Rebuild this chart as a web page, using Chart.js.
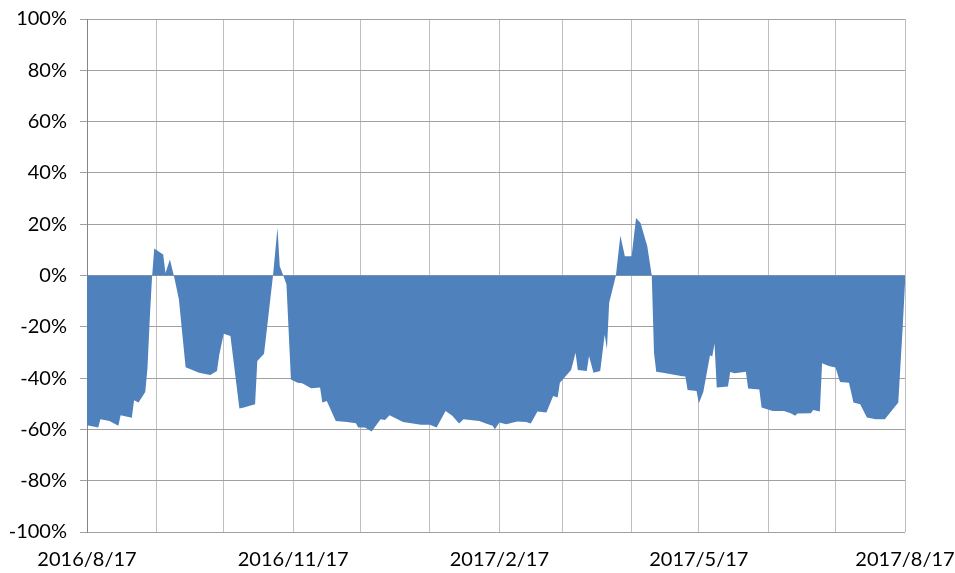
<!DOCTYPE html>
<html>
<head>
<meta charset="utf-8">
<title>Premium</title>
<script src="https://cdn.jsdelivr.net/npm/chart.js@4.4.0/dist/chart.umd.min.js"></script>
<style>
    html, body { margin: 0; padding: 0; background: #fff; }
    #wrap { width: 955px; height: 573px; }
</style>
</head>
<body>
<div id="wrap"><canvas id="premiumChart" width="955" height="573"></canvas></div>
<script>
// days counted from 2016/8/17
var dayOffsets = [
    0, 5, 6, 10, 14, 15, 20, 21, 23, 26, 27, 28, 29, 30, 34, 35, 37, 39, 41, 44,
    50, 55, 58, 59, 61, 64, 68, 70, 75, 76, 79, 83, 85, 86, 88, 89, 91, 94, 96, 100,
    104, 105, 107, 111, 116, 120, 121, 124, 127, 131, 133, 135, 141, 149, 153, 156, 160, 163, 166, 168,
    175, 178, 181, 182, 184, 187, 192, 196, 198, 201, 205, 208, 210, 211, 216, 218, 219, 223, 224, 226,
    229, 231, 232, 233, 236, 238, 240, 243, 245, 247, 250, 252, 253, 254, 257, 265, 267, 268, 272, 273,
    275, 278, 279, 280, 281, 286, 287, 289, 294, 295, 300, 301, 306, 311, 314, 316, 317, 323, 324, 327,
    328, 331, 334, 336, 340, 342, 345, 348, 352, 356, 362, 364, 365
];

// percent
var premiumValues = [
    -58.4, -59.3, -56.0, -56.7, -58.6, -54.5, -55.5, -48.6, -49.5, -45.4, -36.0, -17.0, -1.0, 10.5, 8.2, 1.0, 6.2, -1.0, -9.3, -35.8,
    -37.9, -38.8, -37.2, -31.0, -22.7, -23.6, -51.9, -51.5, -50.2, -33.3, -30.5, 0.0, 18.6, 3.6, -1.0, -3.5, -40.5, -41.8, -42.0, -44.0,
    -43.7, -49.5, -48.9, -56.7, -57.1, -57.6, -59.3, -59.3, -60.8, -56.0, -56.3, -54.5, -57.1, -58.2, -58.2, -59.3, -52.8, -54.7, -57.7, -56.0,
    -56.7, -57.7, -58.6, -59.9, -57.3, -58.0, -56.9, -57.1, -57.7, -53.0, -53.4, -47.0, -47.6, -41.8, -36.8, -30.1, -36.8, -37.2, -31.4, -37.9,
    -37.2, -23.0, -28.8, -10.6, 0.0, 15.6, 7.5, 7.5, 22.4, 20.5, 11.4, 0.0, -30.1, -37.5, -37.9, -39.2, -39.4, -44.6, -45.0, -49.8,
    -45.4, -31.1, -31.6, -26.5, -43.7, -43.3, -37.6, -38.1, -37.5, -44.1, -44.4, -51.5, -52.8, -52.8, -53.7, -54.7, -53.8, -53.7, -52.4, -53.0,
    -34.2, -35.3, -35.9, -41.5, -41.8, -49.5, -50.2, -55.4, -56.0, -56.0, -49.5, -19.7, -3.0
];

// month gridlines (days from 2016/8/17) and their labels
var monthTicks = [0, 31, 61, 92, 122, 153, 184, 212, 243, 273, 304, 334, 365];
var tickLabels = ['2016/8/17', '', '', '2016/11/17', '', '', '2017/2/17', '', '', '2017/5/17', '', '', '2017/8/17'];

(function (window, document) {
    'use strict';

    var font = { family: 'Lato', size: 20 };

    var points = dayOffsets.map(function (d, i) {
        return { x: d, y: premiumValues[i] };
    });

    // the plot box is set by layout.padding and fixed axis sizes, not by label overhang
    var noOverhang = function (scale) {
        scale.paddingLeft = 0;
        scale.paddingRight = 0;
        scale.paddingTop = 0;
        scale.paddingBottom = 0;
    };

    var ctx = document.getElementById('premiumChart').getContext('2d');

    new Chart(ctx, {
        type: 'line',
        data: {
            datasets: [{
                data: points,
                fill: 'origin',
                backgroundColor: '#4F81BD',
                borderWidth: 0,
                pointRadius: 0,
                tension: 0
            }]
        },
        options: {
            responsive: false,
            animation: false,
            devicePixelRatio: 1,
            layout: {
                padding: { left: 2, right: 50, top: 19, bottom: 1 }
            },
            plugins: {
                legend: { display: false },
                tooltip: { enabled: false }
            },
            scales: {
                x: {
                    type: 'linear',
                    min: 0,
                    max: 365,
                    afterBuildTicks: function (scale) {
                        scale.ticks = monthTicks.map(function (v) { return { value: v }; });
                    },
                    afterFit: function (scale) {
                        noOverhang(scale);
                        scale.height = 40;
                    },
                    ticks: {
                        autoSkip: false,
                        maxRotation: 0,
                        padding: 16,
                        color: '#000',
                        font: font,
                        callback: function (value, index) {
                            return tickLabels[index];
                        }
                    },
                    grid: { color: '#BFBFBF', drawTicks: false },
                    border: { display: false }
                },
                y: {
                    min: -100,
                    max: 100,
                    afterFit: function (scale) {
                        noOverhang(scale);
                        scale.width = 85;
                    },
                    ticks: {
                        stepSize: 20,
                        padding: 13,
                        color: '#000',
                        font: font,
                        callback: function (v) { return v + '%'; }
                    },
                    grid: { color: '#A0A0A0', tickLength: 7, tickColor: '#A0A0A0' },
                    border: { color: '#868686' }
                }
            }
        }
    });
})(window, document);
</script>
</body>
</html>
